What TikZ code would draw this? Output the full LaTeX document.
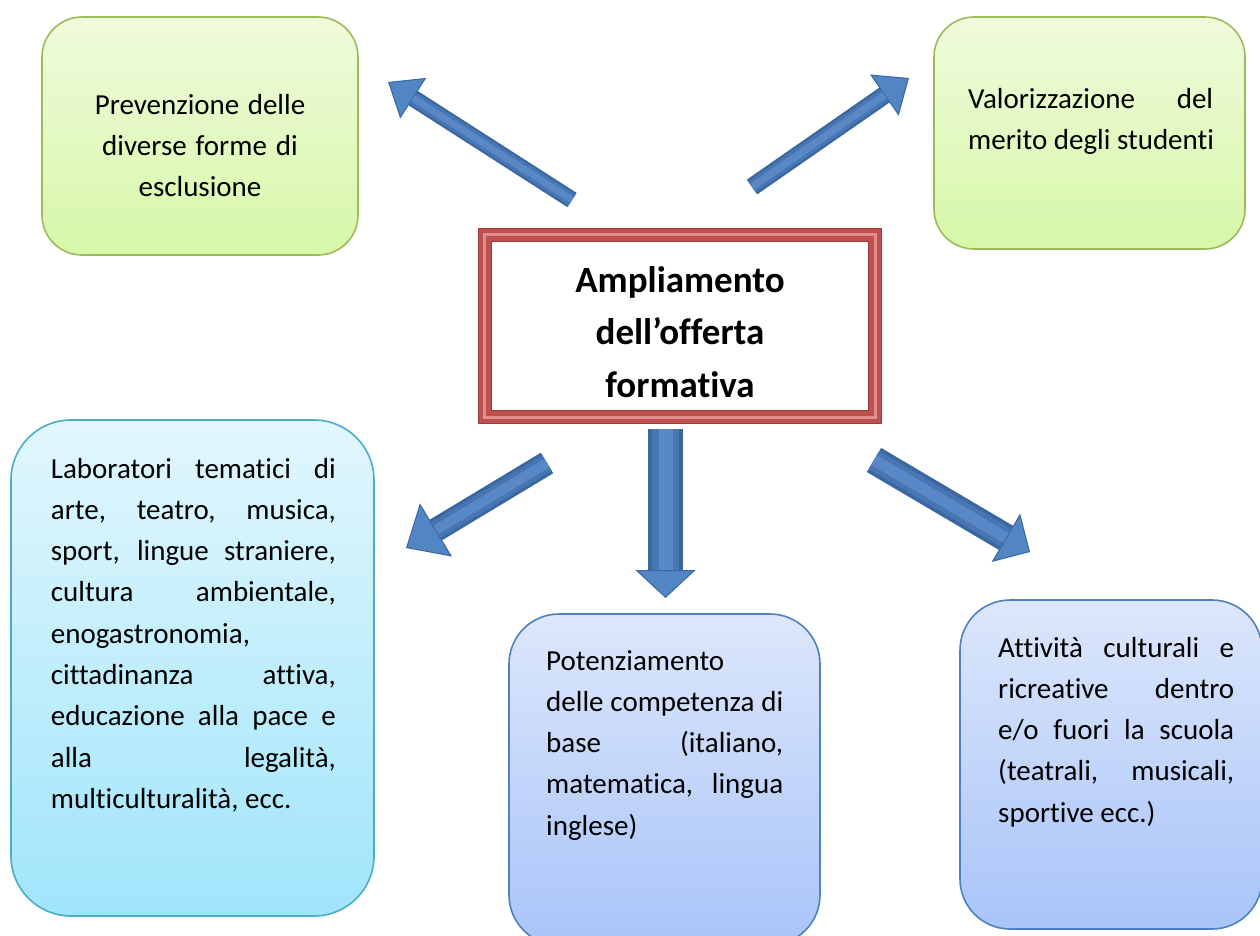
\documentclass[tikz,border=0pt]{standalone}
\usepackage{fontspec}
\setmainfont{Carlito}[Ligatures=NoCommon]
\usetikzlibrary{arrows.meta}
\definecolor{gtop}{HTML}{F0FADC}
\definecolor{gbot}{HTML}{D6F8A8}
\definecolor{gline}{HTML}{9BBB59}
\definecolor{ctop}{HTML}{E2F7FD}
\definecolor{cbot}{HTML}{A0E5FB}
\definecolor{cline}{HTML}{4BACC6}
\definecolor{btop}{HTML}{DDE7FB}
\definecolor{bbot}{HTML}{A8C4F9}
\definecolor{bline}{HTML}{4F81BD}
\definecolor{arrblue}{HTML}{5285C4}
\definecolor{arrdark}{HTML}{3A679F}
\definecolor{arrmid}{HTML}{4876B2}
\definecolor{arrlight}{HTML}{5889C6}
\definecolor{framered}{HTML}{C0504D}
\definecolor{framelight}{HTML}{DE8E8B}
\definecolor{framedark}{HTML}{983C39}
\newcommand\natsp{\spaceskip=0pt\xspaceskip=0pt\relax}
\newcommand\jl[2]{{\natsp\makebox[#1pt][s]{#2}}}
\tikzset{
  panel/.style n args={4}{rectangle, rounded corners=#4pt, top color=#1, bottom color=#2,
     draw=#3, line width=1.6pt, inner sep=0pt},
  txt/.style={inner sep=0pt, align=left, font=\fontsize{29}{41.3}\selectfont},
  arrowthreed/.style n args={3}{draw=arrdark, line width=#1pt,
     -{Triangle[width=#2pt, length=#3pt, fill=arrblue, color=arrdark, line width=1pt]},
     postaction={draw=arrmid, arrows=-, line width=#1pt*0.75, shorten >=#3pt},
     postaction={draw=arrlight, arrows=-, line width=#1pt*0.4, shorten >=#3pt}},
}
\begin{document}
\begin{tikzpicture}[x=1pt,y=-1pt]
\useasboundingbox (0,0) rectangle (1260,935);

% boxes
\node[panel={gtop}{gbot}{gline}{40}, minimum width=316, minimum height=238] (prev) at (200,136) {};
\node[panel={gtop}{gbot}{gline}{40}, minimum width=311, minimum height=232] (valo) at (1089.5,133) {};
\node[panel={ctop}{cbot}{cline}{60}, minimum width=363, minimum height=496] (lab) at (192.5,668) {};
\node[panel={btop}{bbot}{bline}{50}, minimum width=311, minimum height=331] (pot) at (664.5,779.5) {};
\node[panel={btop}{bbot}{bline}{50}, minimum width=302, minimum height=329] (att) at (1111,764.5) {};

% texts
\node[txt, align=center, text width=280pt, anchor=base] (prevt) at (200,114)
  {\natsp Prevenzione delle\\diverse forme di\\esclusione};
\node[txt, text width=270pt, anchor=base west] (valot) at (968,108)
  {\natsp\jl{245}{Valorizzazione del}\\\mbox{merito degli studenti}};
\node[txt, text width=300pt, anchor=base west] (labt) at (50.7,478)
  {\natsp\jl{285}{Laboratori tematici di}\\
   \jl{285}{arte, teatro, musica,}\\
   \jl{285}{sport, lingue straniere,}\\
   \jl{285}{cultura ambientale,}\\
   enogastronomia,\\
   \jl{285}{cittadinanza attiva,}\\
   \jl{285}{educazione alla pace e}\\
   \jl{285}{alla legalità,}\\
   multiculturalità, ecc.};
\node[txt, text width=260pt, anchor=base west] (pott) at (546,670)
  {\natsp Potenziamento\\
   \jl{237}{delle competenza di}\\
   \jl{237}{base (italiano,}\\
   \jl{237}{matematica, lingua}\\
   inglese)};
\node[txt, text width=260pt, anchor=base west] (attt) at (998,657)
  {\natsp\jl{236}{Attività culturali e}\\
   \jl{236}{ricreative dentro}\\
   \jl{236}{e/o fuori la scuola}\\
   \jl{236}{(teatrali, musicali,}\\
   sportive ecc.)};

% central framed box
\node[rectangle, fill=white, inner sep=0pt, minimum width=376, minimum height=168,
      align=center, font=\fontsize{37}{52.5}\selectfont\bfseries] (core) at (680,326)
  {\rule{0pt}{38pt}Ampliamento\\dell’offerta\\formativa};
\draw[framered, line width=14pt] ([shift={(-7,-7)}]core.north west) rectangle ([shift={(7,7)}]core.south east);
\draw[framelight, line width=3pt] ([shift={(-7,-7)}]core.north west) rectangle ([shift={(7,7)}]core.south east);
\draw[framedark, line width=1pt] ([shift={(-13.5,-13.5)}]core.north west) rectangle ([shift={(13.5,13.5)}]core.south east);
\draw[framedark, line width=1pt] ([shift={(-0.5,-0.5)}]core.north west) rectangle ([shift={(0.5,0.5)}]core.south east);

% arrows
\coordinate (a1s) at (572,200); \coordinate (a1e) at (388,82);
\coordinate (a2s) at (752,187); \coordinate (a2e) at (909,78);
\coordinate (a3s) at (665.5,429); \coordinate (a3e) at (665.5,598);
\coordinate (a4s) at (547,463); \coordinate (a4e) at (406,548);
\coordinate (a5s) at (874,460); \coordinate (a5e) at (1030,552);
\draw[arrowthreed={17}{48}{30}] (a1s) -- (a1e);
\draw[arrowthreed={18}{50}{30}] (a2s) -- (a2e);
\draw[arrowthreed={35}{60}{28}] (a3s) -- (a3e);
\draw[arrowthreed={24}{62}{35}] (a4s) -- (a4e);
\draw[arrowthreed={28}{56}{28}] (a5s) -- (a5e);
\end{tikzpicture}
\end{document}
